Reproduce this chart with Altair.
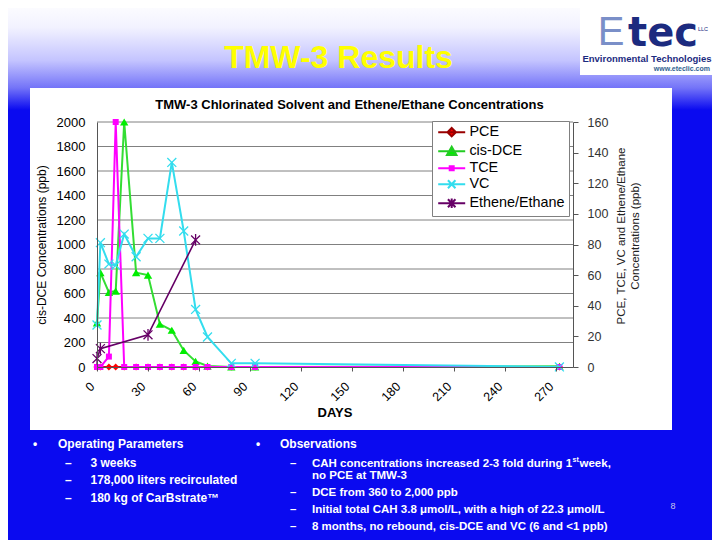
import altair as alt
import pandas as pd

# ---------------- data ----------------
days = [0, 2, 7, 11, 16, 23, 30, 37, 44, 51, 58, 65, 79, 93, 272]
pce = [0, 0, 0, 0, 0, 0, 0, 0, 0, 0, 0, 0, 0, 0, 0]
cis_dce = [360, 770, 610, 620, 2000, 770, 750, 350, 300, 135, 45, 8, 0, 0, 6]
tce = [0, 0, 85, 2000, 0, 0, 0, 0, 0, 0, 0, 0, 0, 0, 0]
vc = [343, 1015, 840, 830, 1085, 900, 1050, 1050, 1670, 1110, 470, 245, 30, 30, 0.5]
eth_days = [0, 2, 30, 58]
ethene = [5.5, 12, 21, 83]

series_names = ["PCE", "cis-DCE", "TCE", "VC", "Ethene/Ethane"]
x_ticks = [0, 30, 60, 90, 120, 150, 180, 210, 240, 270]
left_ticks = [0, 200, 400, 600, 800, 1000, 1200, 1400, 1600, 1800, 2000]
right_ticks = [0, 20, 40, 60, 80, 100, 120, 140, 160]

# ---------------- layout ----------------
FONT = "Liberation Sans"
OX, OY = 97, 122          # page position of plot area's top-left
W, H = 476, 245
BLUE = "#0A0AF0"

one = pd.DataFrame({"k": [0]})


def txt(s, X, Y, size, color="black", bold=False, align="left", angle=0,
        baseline="alphabetic", font=FONT):
    return alt.Chart(one).mark_text(
        text=s, font=font, fontSize=size, color=color,
        fontWeight="bold" if bold else "normal",
        align=align, baseline=baseline, angle=angle,
    ).encode(x=alt.value(X - OX), y=alt.value(Y - OY))


def box(X1, Y1, X2, Y2, color, **kw):
    return alt.Chart(one).mark_rect(color=color, **kw).encode(
        x=alt.value(X1 - OX), x2=alt.value(X2 - OX),
        y=alt.value(Y1 - OY), y2=alt.value(Y2 - OY))


grad = alt.LinearGradient(
    gradient="linear", x1=0, x2=0, y1=0, y2=1,
    stops=[alt.GradientStop(color="#FFFFFF", offset=0),
           alt.GradientStop(color="#F2F2FF", offset=0.25),
           alt.GradientStop(color="#C4C4FF", offset=0.55),
           alt.GradientStop(color="#7373F8", offset=0.8),
           alt.GradientStop(color=BLUE, offset=1)])

xs = alt.Scale(domain=[0, 280], nice=False)
yls = alt.Scale(domain=[0, 2000], nice=False)
yrs = alt.Scale(domain=[0, 160], nice=False)

xaxis = alt.Axis(values=x_ticks, labelAngle=315, labelAlign="right", labelBaseline="middle",
                 labelFont=FONT, labelFontSize=12.5, labelColor="black", tickSize=4,
                 tickColor="#555555", domainColor="#555555", labelPadding=13, labelOffset=-5,
                 grid=False, title=None, zindex=1, labelOverlap=False, labelFlush=False,
                 format="d")
yaxis_l = alt.Axis(values=left_ticks, grid=False, ticks=False, labelPadding=12, labelFont=FONT,
                   labelFontSize=13, labelColor="black", domainColor="#555555", title=None,
                   zindex=1, labelFlush=False, labelOverlap=False, format="d")
yaxis_r = alt.Axis(orient="right", values=right_ticks, grid=False, tickSize=5, tickColor="#555555",
                   labelPadding=9, labelFont=FONT, labelFontSize=12.5, labelColor="#333333",
                   domainColor="#555555", title=None, zindex=1, labelFlush=False,
                   labelOverlap=False, format="d")

xenc = alt.X("day:Q", scale=xs, axis=xaxis)

main_df = pd.DataFrame({"day": days, "pce": pce, "dce": cis_dce, "tce": tce, "vc": vc})
eth_df = pd.DataFrame({"day": eth_days, "eth": ethene})

X_PATH = "M-1,-1L1,1M1,-1L-1,1"
AST_PATH = "M-1,-1L1,1M1,-1L-1,1M0,-1.3L0,1.3"


def series(df, field, yscale, yaxis, line_color, pt_color, shape, size, filled, lw=2.0, pw=1.3):
    base = alt.Chart(df).encode(x=xenc, y=alt.Y(f"{field}:Q", scale=yscale, axis=yaxis))
    return [base.mark_line(color=line_color, strokeWidth=lw),
            base.mark_point(shape=shape, size=size, filled=filled, color=pt_color,
                            strokeWidth=pw, opacity=1)]


grid_df = pd.DataFrame({"g": left_ticks[1:]})
grid_rules = alt.Chart(grid_df).mark_rule(color="#808080", strokeWidth=1).encode(
    y=alt.Y("g:Q", scale=yls, axis=yaxis_l))

# legend (symbols include the line segment, like Excel)
P_LINE = "M-1,0L4.4,0"
legend_paths = [
    P_LINE + "M1.7,-0.85L2.55,0L1.7,0.85L0.85,0Z",
    P_LINE + "M1.7,-0.9L2.65,0.75L0.75,0.75Z",
    P_LINE + "M1.3,-0.4L2.1,-0.4L2.1,0.4L1.3,0.4Z",
    P_LINE + "M0.95,-0.8L2.45,0.8M2.45,-0.8L0.95,0.8",
    P_LINE + "M0.95,-0.8L2.45,0.8M2.45,-0.8L0.95,0.8M1.7,-0.95L1.7,0.95",
]
legend_fill = ["#FF0000", "#00EE00", "#FF00FF", "#33DDEE", "#660066"]
legend_stroke = ["#990000", "#22CC22", "#FF00FF", "#33DDEE", "#660066"]
LEG = alt.Legend(title=None, orient="none", legendX=335, legendY=-1, fillColor="white",
                 strokeColor="#808080", padding=4, labelFont=FONT, labelFontSize=14.4,
                 labelColor="black", labelOffset=19, rowPadding=1, symbolSize=100,
                 symbolStrokeWidth=2, zindex=1)
legend_layer = alt.Chart(pd.DataFrame({"series": series_names})).transform_filter("false").mark_point(
    filled=True, opacity=1, strokeWidth=2).encode(
    fill=alt.Fill("series:N", scale=alt.Scale(domain=series_names, range=legend_fill), legend=LEG),
    stroke=alt.Stroke("series:N", scale=alt.Scale(domain=series_names, range=legend_stroke), legend=LEG),
    shape=alt.Shape("series:N", scale=alt.Scale(domain=series_names, range=legend_paths), legend=LEG),
)

backgrounds = [
    box(0, 0, 720, 110, grad),
    box(30, 88, 672, 430, "white"),
    box(580, 0, 720, 75, "white"),
]

texts = [
    txt("TMW-3 Results", 338.5, 68, 32, color="#FFFF00", bold=True, align="center"),
    # logo
    txt("E", 611, 45, 40, color="#7A8FC8", align="center"),
    txt("tec", 663, 46, 40, color="#1C2B7F", bold=True, align="center", font="DejaVu Sans"),
    txt("LLC", 703, 31, 5.5, color="#1C2B7F", align="center"),
    txt("Environmental Technologies", 647, 62, 9.5, color="#1C2B7F", bold=True, align="center"),
    txt("www.eteclic.com", 710, 71, 7, color="#2F5F8F", bold=True, align="right"),
    # chart texts
    txt("TMW-3 Chlorinated Solvent and Ethene/Ethane Concentrations", 349.5, 109, 13, bold=True, align="center"),
    txt("cis-DCE Concentrations (ppb)", 42, 245, 12, align="center", angle=270, baseline="middle"),
    txt("PCE, TCE, VC and Ethene/Ethane", 622, 236, 11.5, color="#222222", align="center", angle=270, baseline="middle"),
    txt("Concentrations (ppb)", 636, 236, 11.5, color="#222222", align="center", angle=270, baseline="middle"),
    txt("DAYS", 335, 417, 13, bold=True, align="center"),
    # bullets, left column
    txt("•", 33, 448, 12, color="white", bold=True),
    txt("Operating Parameters", 58, 448, 12, color="white", bold=True),
    txt("–", 65, 467, 12, color="white", bold=True),
    txt("3 weeks", 90.5, 467, 12, color="white", bold=True),
    txt("–", 65, 484, 12, color="white", bold=True),
    txt("178,000 liters recirculated", 90.5, 484, 12, color="white", bold=True),
    txt("–", 65, 502, 12, color="white", bold=True),
    txt("180 kg of CarBstrate™", 90.5, 502, 12, color="white", bold=True),
    # bullets, right column
    txt("•", 256, 448, 12, color="white", bold=True),
    txt("Observations", 280, 448, 12, color="white", bold=True),
    txt("–", 290, 467, 11.5, color="white", bold=True),
    txt("CAH concentrations increased 2-3 fold during 1", 312, 467, 11.5, color="white", bold=True),
    txt("st", 572.5, 462, 7, color="white", bold=True),
    txt(" week,", 579.5, 467, 11.5, color="white", bold=True),
    txt("no PCE at TMW-3", 312, 479, 11.5, color="white", bold=True),
    txt("–", 290, 496, 11.5, color="white", bold=True),
    txt("DCE from 360 to 2,000 ppb", 312, 496, 11.5, color="white", bold=True),
    txt("–", 290, 513, 11.5, color="white", bold=True),
    txt("Initial total CAH 3.8 μmol/L, with a high of 22.3 μmol/L", 312, 513, 11.5, color="white", bold=True),
    txt("–", 290, 530, 11.5, color="white", bold=True),
    txt("8 months, no rebound, cis-DCE and VC (6 and <1 ppb)", 312, 530, 11.5, color="white", bold=True),
    txt("8", 673, 509, 9, color="#C8C8E8", align="center"),
]

left_layers = (
    backgrounds
    + [grid_rules]
    + series(main_df, "pce", yls, yaxis_l, "#CC0033", "#FF0000", "diamond", 50, True)
    + series(main_df, "dce", yls, yaxis_l, "#33DD33", "#00EE00", "triangle-up", 70, True)
    + series(main_df, "tce", yls, yaxis_l, "#FF00FF", "#FF00FF", "square", 36, True)
    + series(main_df, "vc", yls, yaxis_l, "#33DDEE", "#33DDEE", X_PATH, 80, False)
    + [legend_layer]
    + texts
)
right_layers = series(eth_df, "eth", yrs, yaxis_r, "#660066", "#660066", AST_PATH, 80, False, lw=1.6)

left_group = alt.layer(*left_layers)
right_group = alt.layer(*right_layers)

# total size 704 x 532 so the page (8px margin) never has to shrink the drawing
chart = alt.layer(left_group, right_group).resolve_scale(y="independent").properties(
    width=W, height=H, background=BLUE,
    padding={"left": 89, "top": 114, "right": 139, "bottom": 173},
    autosize=alt.AutoSizeParams(type="none"),
).configure_view(stroke=None)

chart.save("out.html", embed_options={"renderer": "svg", "actions": False})
